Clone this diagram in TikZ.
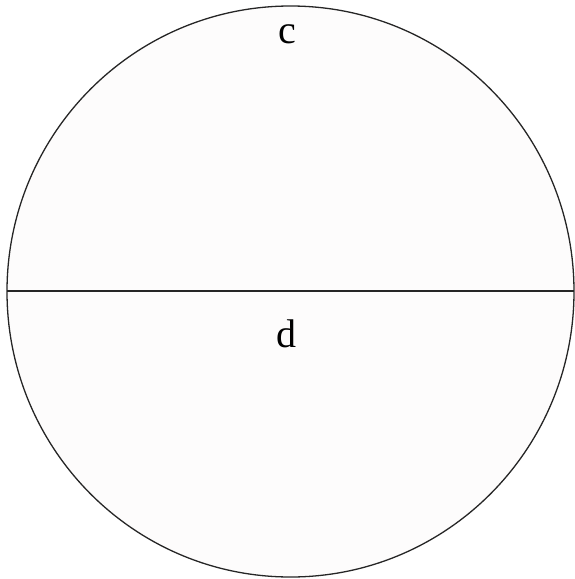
\documentclass[tikz,border=0pt]{standalone}
\usepackage{fontspec}
\setmainfont{Liberation Serif}
\definecolor{fillc}{HTML}{FDFCFC}
\begin{document}
\begin{tikzpicture}[x=1pt,y=-1pt,
  lbl/.style={font=\fontsize{40}{40}\selectfont, inner sep=0pt, anchor=base},
  edge/.style={line width=1.3pt, draw=black!85}]
\useasboundingbox (0,0) rectangle (575,579);
\draw[edge, fill=fillc] (290.5,291.5) ellipse [x radius=283.5, y radius=285.5];
\coordinate (L) at (7,291);
\coordinate (R) at (574,291);
\draw[edge] (L) -- (R);
\node[lbl] (c) at (287,43) {c};
\node[lbl] (d) at (286,347) {d};
\end{tikzpicture}
\end{document}
